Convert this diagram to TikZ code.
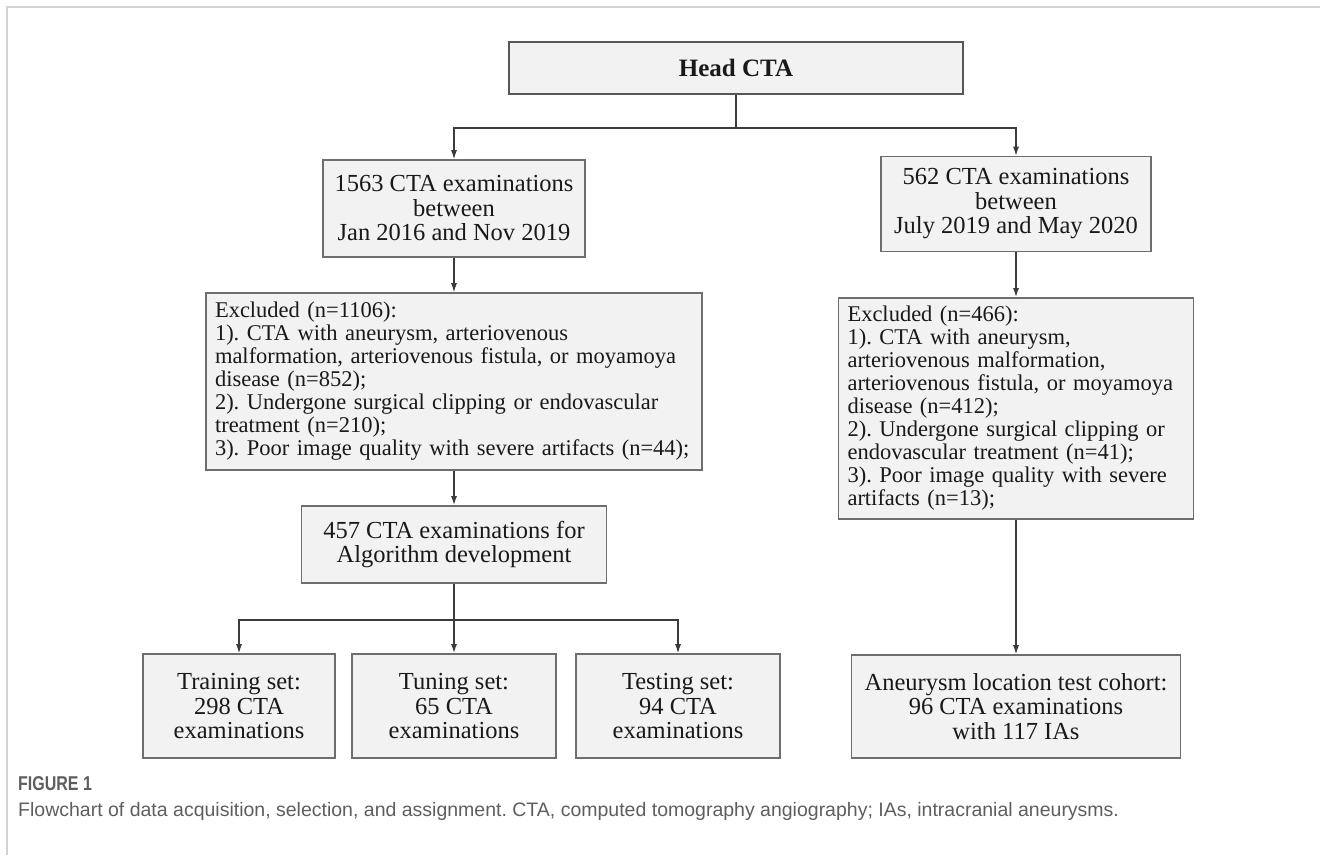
\documentclass[tikz,border=0pt]{standalone}
\usepackage{fontspec}
\setmainfont{Liberation Serif}
\newfontfamily\capfont{Liberation Sans}
\newfontfamily\labelfont[FakeStretch=0.8]{Liberation Sans Bold}
\usetikzlibrary{arrows.meta}
\definecolor{boxfill}{HTML}{F2F2F2}
\definecolor{boxline}{HTML}{6E6E6E}
\definecolor{arrowgray}{HTML}{3C3C3C}
\definecolor{framegray}{HTML}{D2D2D2}
\definecolor{capgray}{HTML}{5E5E5E}

\begin{document}
\frenchspacing
\begin{tikzpicture}[x=1pt,y=-1pt,>={Latex[length=9pt,width=6pt]},
	box/.style={draw=boxline,fill=boxfill,line width=1.6pt,inner sep=0pt,align=center,text=black!90,font=\fontsize{24.5}{24.5}\selectfont},
	exbox/.style={box,inner xsep=9pt,align=left,font=\fontsize{22.5}{23}\selectfont},
	link/.style={draw=arrowgray,line width=1.1pt}]
	\useasboundingbox (0,0) rectangle (1320,855);
	\draw[framegray,line width=1.5pt] (7,855) -- (7,7) -- (1320,7);

	% top of the chart
	\node[box,minimum width=454,minimum height=52,draw=boxline!80!black,line width=2pt,font=\fontsize{25}{25}\selectfont\bfseries] (head) at (736,68) {Head CTA};
	\node[box,minimum width=262,minimum height=97] (scan1) at (454,208.5) {1563 CTA examinations\\between\\Jan 2016 and Nov 2019};
	\node[box,minimum width=270,minimum height=95] (scan2) at (1016,204) {562 CTA examinations\\between\\July 2019 and May 2020};

	% exclusions
	\node[exbox,text width=478,minimum height=177] (excl1) at (454,381.5) {Excluded (n=1106):\\1). CTA with aneurysm, arteriovenous\\malformation, arteriovenous fistula, or moyamoya\\disease (n=852);\\2). Undergone surgical clipping or endovascular\\treatment (n=210);\\3). Poor image quality with severe artifacts (n=44);};
	\node[exbox,text width=337,minimum height=221] (excl2) at (1016,408.5) {Excluded (n=466):\\1). CTA with aneurysm,\\arteriovenous malformation,\\arteriovenous fistula, or moyamoya\\disease (n=412);\\2). Undergone surgical clipping or\\endovascular treatment (n=41);\\3). Poor image quality with severe\\artifacts (n=13);};

	\node[box,minimum width=305,minimum height=77] (algo) at (454,544.5) {457 CTA examinations for\\Algorithm development};

	% final sets
	\node[box,minimum width=192,minimum height=104] (train) at (239,706) {Training set:\\298 CTA\\examinations};
	\node[box,minimum width=204,minimum height=104] (tune) at (454,706) {Tuning set:\\65 CTA\\examinations};
	\node[box,minimum width=204,minimum height=104] (test) at (678,706) {Testing set:\\94 CTA\\examinations};
	\node[box,minimum width=329,minimum height=103] (cohort) at (1016,706.5) {Aneurysm location test cohort:\\96 CTA examinations\\with 117 IAs};

	\coordinate (split1) at (736,128);
	\coordinate (split2) at (454,620);
	\draw[link] (head.south) -- (split1);
	\draw[link,->] (split1) -| (scan1.north);
	\draw[link,->] (split1) -| (scan2.north);
	\draw[link,->] (scan1.south) -- (excl1.north);
	\draw[link,->,line width=1.5pt] (scan2.south) -- (excl2.north);
	\draw[link,->,line width=1.5pt] (excl1.south) -- (algo.north);
	\draw[link,->] (excl2.south) -- (cohort.north);
	\draw[link,line width=1.8pt] (algo.south) -- (split2);
	\draw[link,->] (split2) -| (train.north);
	\draw[link,->,line width=1.5pt] (split2) -- (tune.north);
	\draw[link,->] (split2) -| (test.north);

	% caption
	\node[anchor=west,inner sep=0pt,text=capgray,font=\labelfont\fontsize{20}{20}\selectfont] (figlabel) at (18,784) {FIGURE 1};
	\node[anchor=west,inner sep=0pt,text=capgray,font=\capfont\fontsize{19.5}{19.5}\selectfont] (figtext) at (18,811) {Flowchart of data acquisition, selection, and assignment. CTA, computed tomography angiography; IAs, intracranial aneurysms.};
\end{tikzpicture}
\end{document}
